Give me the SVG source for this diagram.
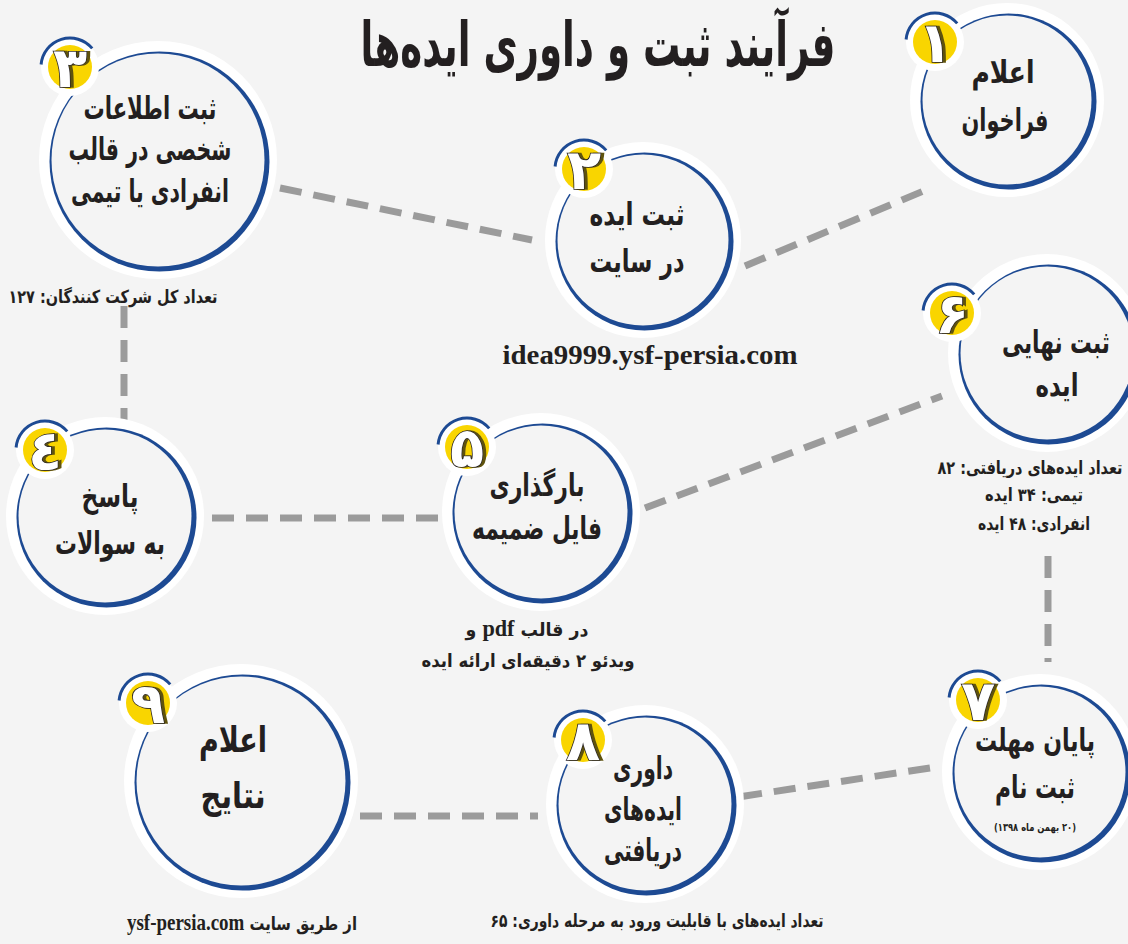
<svg xmlns="http://www.w3.org/2000/svg" xmlns:xlink="http://www.w3.org/1999/xlink" width="1128" height="944" viewBox="0 0 1128 944">
<defs>
<style>
.bg{fill:#f4f4f4}
.halo{fill:#ffffff}
.ring{fill:#1d4a93}
.inner{fill:#f4f4f4}
.conn{stroke:#9b9b9b;stroke-width:7;stroke-dasharray:22 12;fill:none}
.t{font-family:"DejaVu Sans","Noto Sans",sans-serif;font-weight:bold;fill:#231f20;text-anchor:middle;direction:rtl}
.n{font-size:31px}
.s{font-size:18px}
.lat{font-family:"Liberation Serif","Times New Roman",serif;font-weight:bold}
.num{font-family:"DejaVu Sans","Noto Sans",sans-serif;font-weight:bold;font-size:56px;text-anchor:middle;fill:#ffffff;stroke:#231f20;stroke-width:1.6;paint-order:stroke;filter:url(#sh)}
</style>
<filter id="sh" x="-30%" y="-30%" width="160%" height="160%">
<feFlood flood-color="#5e5210"/>
<feComposite in2="SourceAlpha" operator="in"/>
<feOffset dx="3" dy="0"/>
<feMerge><feMergeNode/><feMergeNode in="SourceGraphic"/></feMerge>
</filter>
<g id="badge">
<circle r="29" fill="#ffffff"/>
<path d="M -28.9 -2.5 A 29 29 0 0 1 22.2 -18.6" fill="none" stroke="#1d4a93" stroke-width="3"/>
<circle r="22" fill="#f9d500"/>
</g>
</defs>
<rect class="bg" x="0" y="0" width="1128" height="944"/>

<text id="title" class="t" x="598" y="66" font-size="62" textLength="475" lengthAdjust="spacingAndGlyphs">فرآیند ثبت و داوری ایده‌ها</text>

<g id="connectors">
<line class="conn" x1="280" y1="188" x2="532" y2="240"/>
<line class="conn" x1="745" y1="266" x2="933" y2="187"/>
<line class="conn" x1="124" y1="306" x2="124" y2="420"/>
<line class="conn" x1="212" y1="518" x2="440" y2="518"/>
<line class="conn" x1="645" y1="508" x2="942" y2="396"/>
<line class="conn" x1="1048" y1="556" x2="1048" y2="662"/>
<line class="conn" x1="930" y1="768" x2="738" y2="797"/>
<line class="conn" x1="360" y1="816" x2="538" y2="816"/>
</g>

<g id="node1">
<circle class="halo" cx="1007" cy="100" r="97"/>
<circle class="ring" cx="1008.5" cy="101.5" r="88"/>
<circle class="inner" cx="1007" cy="100" r="84.5"/>
<use xlink:href="#badge" x="935" y="42"/>
<text class="num" x="935" y="62">۱</text>
<text class="t n" x="1003" y="83" textLength="63" lengthAdjust="spacingAndGlyphs">اعلام</text>
<text class="t n" x="1005" y="131" textLength="87" lengthAdjust="spacingAndGlyphs">فراخوان</text>
</g>

<g id="node2">
<circle class="halo" cx="643" cy="240" r="98"/>
<circle class="ring" cx="644.5" cy="241.5" r="89"/>
<circle class="inner" cx="643" cy="240" r="85.5"/>
<use xlink:href="#badge" x="584" y="169"/>
<text class="num" x="584" y="189">۲</text>
<text class="t n" x="637" y="225" textLength="95" lengthAdjust="spacingAndGlyphs">ثبت ایده</text>
<text class="t n" x="637" y="272" textLength="95" lengthAdjust="spacingAndGlyphs">در سایت</text>
<text class="t lat" x="650" y="364" font-size="28" textLength="295" lengthAdjust="spacingAndGlyphs" style="direction:ltr">idea9999.ysf-persia.com</text>
</g>

<g id="node3">
<circle class="halo" cx="158" cy="160" r="119"/>
<circle class="ring" cx="159.5" cy="161.5" r="110"/>
<circle class="inner" cx="158" cy="160" r="106.5"/>
<use xlink:href="#badge" x="70" y="67"/>
<text class="num" x="70" y="87">۳</text>
<text class="t n" x="150" y="119" textLength="133" lengthAdjust="spacingAndGlyphs">ثبت اطلاعات</text>
<text class="t n" x="150" y="160" textLength="163" lengthAdjust="spacingAndGlyphs">شخصی در قالب</text>
<text class="t n" x="150" y="202" textLength="158" lengthAdjust="spacingAndGlyphs">انفرادی یا تیمی</text>
<text class="t s" x="113" y="303" textLength="209" lengthAdjust="spacingAndGlyphs">تعداد کل شرکت کنندگان: ۱۲۷</text>
</g>

<g id="node4">
<circle class="halo" cx="105" cy="516" r="99"/>
<circle class="ring" cx="106.5" cy="517.5" r="90"/>
<circle class="inner" cx="105" cy="516" r="86.5"/>
<use xlink:href="#badge" x="45" y="450"/>
<text class="num" x="45" y="470">٤</text>
<text class="t n" x="110" y="507" textLength="57" lengthAdjust="spacingAndGlyphs">پاسخ</text>
<text class="t n" x="110" y="554" textLength="110" lengthAdjust="spacingAndGlyphs">به سوالات</text>
</g>

<g id="node5">
<circle class="halo" cx="541" cy="512" r="99"/>
<circle class="ring" cx="542.5" cy="513.5" r="90"/>
<circle class="inner" cx="541" cy="512" r="86.5"/>
<use xlink:href="#badge" x="467" y="447"/>
<text class="num" x="467" y="467">۵</text>
<text class="t n" x="537" y="496" textLength="95" lengthAdjust="spacingAndGlyphs">بارگذاری</text>
<text class="t n" x="537" y="539" textLength="130" lengthAdjust="spacingAndGlyphs">فایل ضمیمه</text>
<text class="t s" x="527" y="636" font-size="20" textLength="123" lengthAdjust="spacingAndGlyphs">در قالب <tspan class="lat" font-size="23">pdf</tspan> و</text>
<text class="t s" x="528" y="667" font-size="20" textLength="213" lengthAdjust="spacingAndGlyphs">ویدئو ۲ دقیقه‌ای ارائه ایده</text>
</g>

<g id="node6">
<circle class="halo" cx="1047" cy="353" r="99"/>
<circle class="ring" cx="1048.5" cy="354.5" r="90"/>
<circle class="inner" cx="1047" cy="353" r="86.5"/>
<use xlink:href="#badge" x="952" y="313"/>
<text class="num" x="952" y="333">۶</text>
<text class="t n" x="1056" y="353" font-size="28" textLength="108" lengthAdjust="spacingAndGlyphs">ثبت نهایی</text>
<text class="t n" x="1057" y="396" textLength="43" lengthAdjust="spacingAndGlyphs">ایده</text>
<text class="t s" x="1030" y="474" font-size="16" textLength="185" lengthAdjust="spacingAndGlyphs">تعداد ایده‌های دریافتی: ۸۲</text>
<text class="t s" x="1034" y="501" textLength="98" lengthAdjust="spacingAndGlyphs">تیمی: ۳۴ ایده</text>
<text class="t s" x="1034" y="530" textLength="112" lengthAdjust="spacingAndGlyphs">انفرادی: ۴۸ ایده</text>
</g>

<g id="node7">
<circle class="halo" cx="1040" cy="772" r="98"/>
<circle class="ring" cx="1041.5" cy="773.5" r="89"/>
<circle class="inner" cx="1040" cy="772" r="85.5"/>
<use xlink:href="#badge" x="978" y="700"/>
<text class="num" x="978" y="720">۷</text>
<text class="t n" x="1035" y="751" textLength="120" lengthAdjust="spacingAndGlyphs">پایان مهلت</text>
<text class="t n" x="1035" y="798" textLength="80" lengthAdjust="spacingAndGlyphs">ثبت نام</text>
<text class="t" x="1035" y="831" font-size="11" textLength="82" lengthAdjust="spacingAndGlyphs">(۲۰ بهمن ماه ۱۳۹۸)</text>
</g>

<g id="node8">
<circle class="halo" cx="645" cy="804" r="99"/>
<circle class="ring" cx="646.5" cy="805.5" r="90"/>
<circle class="inner" cx="645" cy="804" r="86.5"/>
<use xlink:href="#badge" x="583" y="740"/>
<text class="num" x="583" y="760">۸</text>
<text class="t n" x="643" y="779" textLength="60" lengthAdjust="spacingAndGlyphs">داوری</text>
<text class="t n" x="643" y="820" textLength="78" lengthAdjust="spacingAndGlyphs">ایده‌های</text>
<text class="t n" x="643" y="861" textLength="78" lengthAdjust="spacingAndGlyphs">دریافتی</text>
<text class="t s" x="657" y="927" textLength="333" lengthAdjust="spacingAndGlyphs">تعداد ایده‌های با قابلیت ورود به مرحله داوری: ۶۵</text>
</g>

<g id="node9">
<circle class="halo" cx="241" cy="781" r="117"/>
<circle class="ring" cx="242.5" cy="782.5" r="108"/>
<circle class="inner" cx="241" cy="781" r="104.5"/>
<use xlink:href="#badge" x="148" y="703"/>
<text class="num" x="148" y="723">۹</text>
<text class="t" x="233" y="752" font-size="36" textLength="68" lengthAdjust="spacingAndGlyphs">اعلام</text>
<text class="t" x="233" y="808" font-size="36" textLength="65" lengthAdjust="spacingAndGlyphs">نتایج</text>
<text class="t s" x="242" y="930" font-size="19" textLength="230" lengthAdjust="spacingAndGlyphs">از طریق سایت <tspan class="lat" font-size="23">ysf-persia.com</tspan></text>
</g>
</svg>
